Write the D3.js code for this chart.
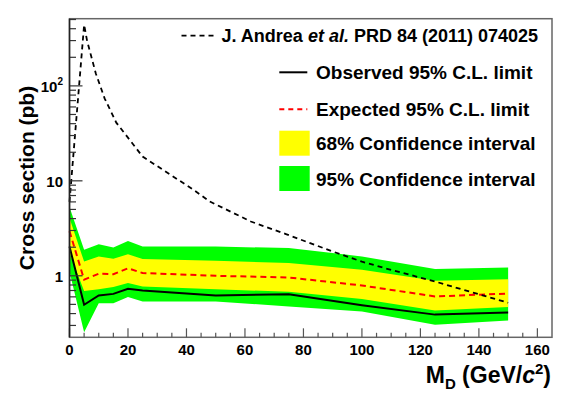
<!DOCTYPE html>
<html>
<head>
<meta charset="utf-8">
<script src="https://d3js.org/d3.v7.min.js"></script>
<style>
  body { margin: 0; background: white; }
  text { font-family: "Liberation Sans", Arial, sans-serif; font-weight: bold; }
</style>
</head>
<body>
<div id="chart"></div>
<script>
// limit scan points (M_D in GeV/c^2) and cross sections in pb
var massPoints = [0, 5, 10, 15, 20, 25, 50, 75, 100, 125, 150];
var observed   = [2.03, 0.495, 0.62, 0.645, 0.73, 0.70, 0.62, 0.64, 0.49, 0.39, 0.41];
var expected   = [2.95, 0.91, 1.05, 1.04, 1.2, 1.07, 1.0, 0.96, 0.79, 0.606, 0.65];
var band68Low  = [1.75, 0.69, 0.72, 0.76, 0.84, 0.77, 0.72, 0.68, 0.57, 0.43, 0.47];
var band68High = [4.05, 1.41, 1.6, 1.51, 1.69, 1.5, 1.44, 1.36, 1.16, 0.886, 0.92];
var band95Low  = [1.1, 0.255, 0.515, 0.515, 0.597, 0.537, 0.537, 0.475, 0.42, 0.305, 0.338];
var band95High = [5.3, 1.88, 2.15, 1.99, 2.33, 2.03, 2.03, 1.96, 1.6, 1.18, 1.22];

// theory curve (J. Andrea et al.)
var theoryMass = [0, 5, 6, 9, 12, 16, 21, 25, 42, 48, 62, 74, 90, 100, 108, 125, 150];
var theoryXsec = [6, 440, 300, 135, 74, 41, 26, 18, 8.2, 6.05, 3.73, 2.75, 1.8, 1.41, 1.2, 0.87, 0.52];

var xTicks = [0, 20, 40, 60, 80, 100, 120, 140, 160];
var yTicks = [1, 10, 100];
var yTickLabels = ["1", "10", "10^2"];

var legendTheory = "J. Andrea et al. PRD 84 (2011) 074025";
var legendLabels = ["Observed 95% C.L. limit", "Expected 95% C.L. limit",
                    "68% Confidence interval", "95% Confidence interval"];

var W = 581, H = 394;
var frame = {left: 69.5, right: 552, top: 18.7, bottom: 337.3};

var svg = d3.select("#chart").append("svg")
    .attr("width", W)
    .attr("height", H);

var x = d3.scaleLinear().domain([0, 165]).range([frame.left, frame.right]);
var y = d3.scaleLog().domain([0.225, 510]).range([frame.bottom, frame.top]);

var pts = massPoints.map(function(m, i){
    return {m: m, obs: observed[i], exp: expected[i],
            lo68: band68Low[i], hi68: band68High[i],
            lo95: band95Low[i], hi95: band95High[i]};
});

var plot = svg.append("g");

// bands
plot.append("path").datum(pts)
    .attr("fill", "#00ff00")
    .attr("d", d3.area()
        .x(function(d){ return x(d.m); })
        .y0(function(d){ return y(d.lo95); })
        .y1(function(d){ return y(d.hi95); }));

plot.append("path").datum(pts)
    .attr("fill", "#ffff00")
    .attr("d", d3.area()
        .x(function(d){ return x(d.m); })
        .y0(function(d){ return y(d.lo68); })
        .y1(function(d){ return y(d.hi68); }));

// expected
plot.append("path").datum(pts)
    .attr("fill", "none")
    .attr("stroke", "#ff0000")
    .attr("stroke-width", 2)
    .attr("stroke-dasharray", "6,4")
    .attr("d", d3.line()
        .x(function(d){ return x(d.m); })
        .y(function(d){ return y(d.exp); }));

// observed
plot.append("path").datum(pts)
    .attr("fill", "none")
    .attr("stroke", "black")
    .attr("stroke-width", 2)
    .attr("d", d3.line()
        .x(function(d){ return x(d.m); })
        .y(function(d){ return y(d.obs); }));

// theory
var theory = theoryMass.map(function(m, i){ return {m: m, v: theoryXsec[i]}; });
plot.append("path").datum(theory)
    .attr("fill", "none")
    .attr("stroke", "black")
    .attr("stroke-width", 1.8)
    .attr("stroke-dasharray", "5,4")
    .attr("d", d3.line()
        .x(function(d){ return x(d.m); })
        .y(function(d){ return y(d.v); }));

// frame
svg.append("rect")
    .attr("x", frame.left).attr("y", frame.top)
    .attr("width", frame.right - frame.left)
    .attr("height", frame.bottom - frame.top)
    .attr("fill", "none")
    .attr("stroke", "#666")
    .attr("stroke-width", 1.5);

// x axis ticks (inside, ROOT style)
var xMinor = d3.range(0, 165, 5);
svg.append("g").selectAll("line").data(xMinor).enter().append("line")
    .attr("x1", function(d){ return x(d); })
    .attr("x2", function(d){ return x(d); })
    .attr("y1", frame.bottom)
    .attr("y2", function(d){ return d % 20 == 0 ? frame.bottom - 9 : frame.bottom - 4.5; })
    .attr("stroke", "#555")
    .attr("stroke-width", 1.2);

svg.append("g").selectAll("text").data(xTicks).enter().append("text")
    .attr("x", function(d){ return x(d); })
    .attr("y", 355)
    .attr("text-anchor", "middle")
    .attr("font-size", 15)
    .text(function(d){ return d; });

// y axis ticks
var yMinor = [];
[0.1, 1, 10, 100].forEach(function(dec){
    for(var k=2; k<=9; k++){
        var v = dec*k;
        if(v >= 0.225 && v <= 510) yMinor.push(v);
    }
});
svg.append("g").selectAll("line").data(yMinor).enter().append("line")
    .attr("x1", frame.left).attr("x2", frame.left + 6.5)
    .attr("y1", function(d){ return y(d); })
    .attr("y2", function(d){ return y(d); })
    .attr("stroke", "#333").attr("stroke-width", 1.2);
svg.append("g").selectAll("line").data(yTicks).enter().append("line")
    .attr("x1", frame.left).attr("x2", frame.left + 13)
    .attr("y1", function(d){ return y(d); })
    .attr("y2", function(d){ return y(d); })
    .attr("stroke", "#333").attr("stroke-width", 1.2);

svg.append("line")
    .attr("x1", frame.left).attr("x2", frame.left)
    .attr("y1", frame.top).attr("y2", frame.bottom)
    .attr("stroke", "#222").attr("stroke-width", 1.5);

var yLab = svg.append("g").selectAll("text").data(yTicks).enter().append("text")
    .attr("x", 63)
    .attr("y", function(d){ return y(d) + 6; })
    .attr("text-anchor", "end")
    .attr("font-size", 15);
yLab.each(function(d, i){
    var t = d3.select(this);
    var parts = yTickLabels[i].split("^");
    t.append("tspan").text(parts[0]);
    if(parts.length > 1){
        t.append("tspan").attr("font-size", 10).attr("dy", -7).text(parts[1]);
    }
});

// axis titles
svg.append("text")
    .attr("transform", "translate(33.5," + ((frame.top + frame.bottom)/2) + ") rotate(-90)")
    .attr("text-anchor", "middle")
    .attr("font-size", 21)
    .text("Cross section (pb)");

var xt = svg.append("text")
    .attr("x", 551).attr("y", 383)
    .attr("text-anchor", "end")
    .attr("font-size", 23);
xt.append("tspan").text("M");
xt.append("tspan").attr("font-size", 15).attr("dy", 6).text("D");
xt.append("tspan").attr("dy", -6).text(" (GeV/");
xt.append("tspan").attr("font-style", "italic").text("c");
xt.append("tspan").attr("font-size", 15).attr("dy", -9).text("2");
xt.append("tspan").attr("dy", 9).text(")");

// legend
var lg = svg.append("g");
lg.append("line")
    .attr("x1", 181.5).attr("x2", 215).attr("y1", 35.7).attr("y2", 35.7)
    .attr("stroke", "black").attr("stroke-width", 1.8).attr("stroke-dasharray", "5,4");
var lt = lg.append("text").attr("x", 221.5).attr("y", 41.5).attr("font-size", 18);
var tparts = legendTheory.split("et al.");
lt.append("tspan").text(tparts[0]);
lt.append("tspan").attr("font-style", "italic").text("et al.");
lt.append("tspan").text(tparts[1]);

var rowY = [72.3, 109.3, 143.2, 178.5];
lg.append("line")
    .attr("x1", 279.3).attr("x2", 307.3).attr("y1", rowY[0]).attr("y2", rowY[0])
    .attr("stroke", "black").attr("stroke-width", 2);
lg.append("line")
    .attr("x1", 279.3).attr("x2", 307.3).attr("y1", rowY[1]).attr("y2", rowY[1])
    .attr("stroke", "#ff0000").attr("stroke-width", 2).attr("stroke-dasharray", "5,4");
lg.append("rect")
    .attr("x", 279.3).attr("y", 130.7).attr("width", 30.4).attr("height", 25)
    .attr("fill", "#ffff00");
lg.append("rect")
    .attr("x", 279.3).attr("y", 166).attr("width", 30.4).attr("height", 25)
    .attr("fill", "#00ff00");

lg.selectAll("text.entry").data(legendLabels).enter().append("text")
    .attr("class", "entry")
    .attr("x", 316)
    .attr("y", function(d, i){ return rowY[i] + 7; })
    .attr("font-size", 19)
    .text(function(d){ return d; });
</script>
</body>
</html>
